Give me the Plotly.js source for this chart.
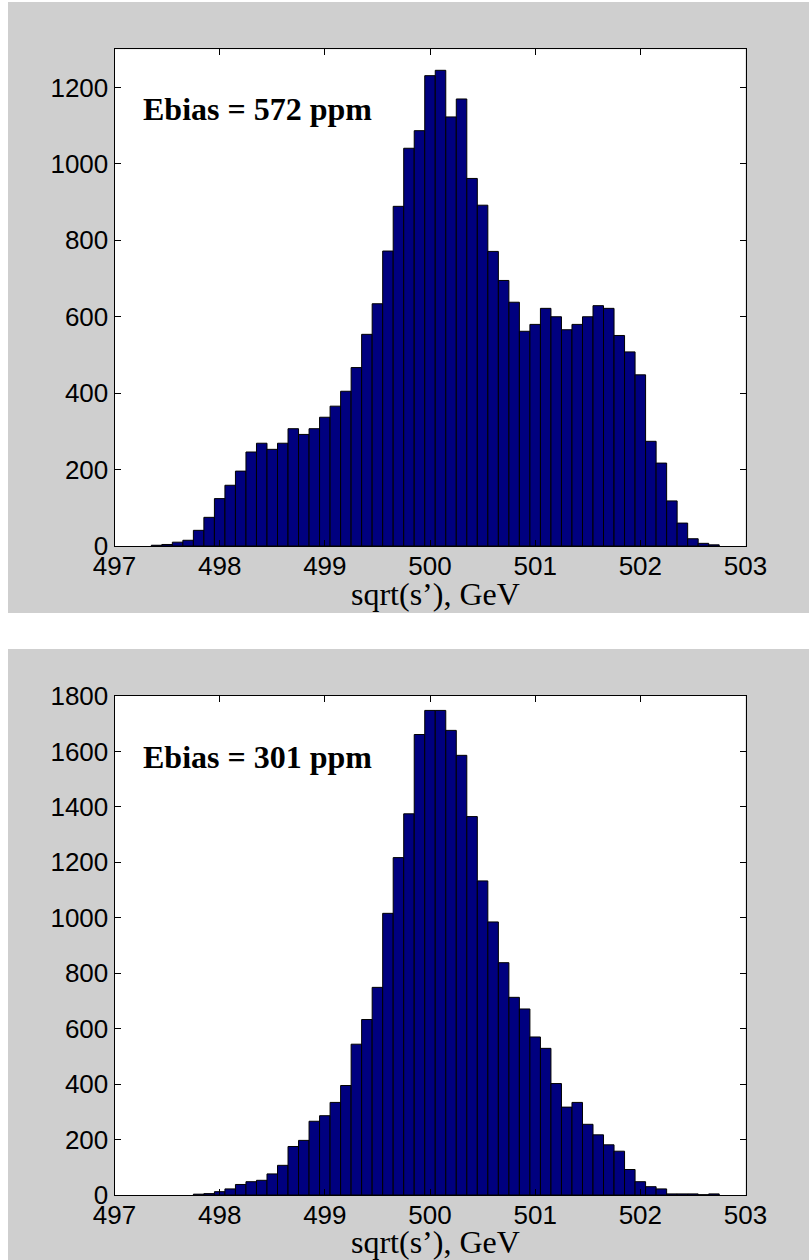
<!DOCTYPE html>
<html>
<head>
<meta charset="utf-8">
<script src="https://cdn.plot.ly/plotly-3.0.1.min.js"></script>
<style>
  html, body { margin: 0; padding: 0; background: #ffffff; }
  #chart { width: 809px; height: 1260px; }
</style>
</head>
<body>
<div id="chart"></div>
<script>
// ---- Data ----
// Top histogram: Ebias = 572 ppm, bin centres (GeV) and counts
var binsTop = [497.4, 497.5, 497.6, 497.7, 497.8, 497.9,
  498.0, 498.1, 498.2, 498.3, 498.4, 498.5, 498.6, 498.7, 498.8, 498.9,
  499.0, 499.1, 499.2, 499.3, 499.4, 499.5, 499.6, 499.7, 499.8, 499.9,
  500.0, 500.1, 500.2, 500.3, 500.4, 500.5, 500.6, 500.7, 500.8, 500.9,
  501.0, 501.1, 501.2, 501.3, 501.4, 501.5, 501.6, 501.7, 501.8, 501.9,
  502.0, 502.1, 502.2, 502.3, 502.4, 502.5, 502.6, 502.7];
var countsTop = [2, 4, 10, 15, 41, 75,
  124, 159, 196, 246, 269, 253, 269, 307, 292, 307,
  337, 366, 405, 467, 554, 634, 772, 889, 1041, 1087,
  1231, 1245, 1123, 1170, 962, 892, 771, 695, 638, 562,
  580, 622, 600, 566, 580, 600, 629, 622, 551, 508,
  448, 274, 217, 118, 60, 19, 7, 3];

// Bottom histogram: Ebias = 301 ppm
var binsBottom = [497.8, 497.9,
  498.0, 498.1, 498.2, 498.3, 498.4, 498.5, 498.6, 498.7, 498.8, 498.9,
  499.0, 499.1, 499.2, 499.3, 499.4, 499.5, 499.6, 499.7, 499.8, 499.9,
  500.0, 500.1, 500.2, 500.3, 500.4, 500.5, 500.6, 500.7, 500.8, 500.9,
  501.0, 501.1, 501.2, 501.3, 501.4, 501.5, 501.6, 501.7, 501.8, 501.9,
  502.0, 502.1, 502.2, 502.3, 502.4, 502.5, 502.6, 502.7];
var countsBottom = [3, 5,
  12, 22, 38, 48, 53, 76, 107, 175, 197, 266,
  286, 334, 395, 544, 633, 749, 1016, 1217, 1375, 1661,
  1748, 1748, 1676, 1586, 1365, 1133, 985, 838, 713, 671,
  570, 529, 402, 317, 334, 255, 217, 181, 158, 92,
  48, 30, 22, 4, 4, 4, 1, 4];

var xTickVals = [497, 498, 499, 500, 501, 502, 503];
var xTickText = ["497", "498", "499", "500", "501", "502", "503"];
var yTickValsTop = [0, 200, 400, 600, 800, 1000, 1200];
var yTickValsBottom = [0, 200, 400, 600, 800, 1000, 1200, 1400, 1600, 1800];
var labelTop = "Ebias = 572 ppm";
var labelBottom = "Ebias = 301 ppm";
var xTitle = "sqrt(s\u2019), GeV";

// ---- Styling ----
var W = 809, H = 1260;
var barColor = "#00007F";
var panelGray = "#CFCFCF";
function px(x) { return x / W; }
function py(y) { return 1 - y / H; }

var tickFont = { family: "Liberation Sans, Arial, sans-serif", size: 26, color: "#000" };

var traces = [
  {
    type: "bar", x: binsTop, y: countsTop, xaxis: "x", yaxis: "y",
    width: 0.1,
    marker: { color: barColor, line: { color: "#000", width: 1 } },
    hoverinfo: "x+y", showlegend: false
  },
  {
    type: "bar", x: binsBottom, y: countsBottom, xaxis: "x2", yaxis: "y2",
    width: 0.1,
    marker: { color: barColor, line: { color: "#000", width: 1 } },
    hoverinfo: "x+y", showlegend: false
  }
];

function xAxis(anchor) {
  return {
    domain: [px(114.5), px(745.5)],
    anchor: anchor,
    range: [497, 503],
    tickmode: "array", tickvals: xTickVals, ticktext: xTickText,
    ticks: "inside", ticklen: 6, tickwidth: 1, tickcolor: "#000",
    showline: true, linecolor: "#000", linewidth: 1, mirror: "ticks",
    showgrid: false, zeroline: false, ticklabelstandoff: -3,
    tickfont: tickFont, fixedrange: true
  };
}
function yAxis(anchor, domain, range, vals) {
  return {
    domain: domain,
    anchor: anchor,
    range: range,
    tickmode: "array", tickvals: vals, ticktext: vals.map(String),
    ticks: "inside", ticklen: 6, tickwidth: 1, tickcolor: "#000",
    showline: true, linecolor: "#000", linewidth: 1, mirror: "ticks",
    showgrid: false, zeroline: false,
    tickfont: tickFont, fixedrange: true
  };
}

var layout = {
  width: W, height: H,
  margin: { l: 0, r: 0, t: 0, b: 0, pad: 0 },
  paper_bgcolor: "#ffffff",
  plot_bgcolor: "#ffffff",
  bargap: 0,
  showlegend: false,
  xaxis: xAxis("y"),
  yaxis: yAxis("x", [py(546), py(49.3)], [0, 1300], yTickValsTop),
  xaxis2: xAxis("y2"),
  yaxis2: yAxis("x2", [py(1195), py(696)], [0, 1800], yTickValsBottom),
  shapes: [
    { type: "rect", xref: "paper", yref: "paper", x0: px(8), x1: 1, y0: py(613), y1: py(2),
      fillcolor: panelGray, line: { width: 0 }, layer: "below" },
    { type: "rect", xref: "paper", yref: "paper", x0: px(8), x1: 1, y0: 0, y1: py(649),
      fillcolor: panelGray, line: { width: 0 }, layer: "below" },
    { type: "rect", xref: "x domain", yref: "y domain", x0: 0, x1: 1, y0: 0, y1: 1,
      fillcolor: "#ffffff", line: { width: 0 }, layer: "below" },
    { type: "rect", xref: "x2 domain", yref: "y2 domain", x0: 0, x1: 1, y0: 0, y1: 1,
      fillcolor: "#ffffff", line: { width: 0 }, layer: "below" }
  ],
  annotations: [
    { xref: "paper", yref: "paper", x: px(141), y: py(89), xanchor: "left", yanchor: "top",
      text: "<b>" + labelTop + "</b>", showarrow: false,
      font: { family: "Liberation Serif, Times New Roman, serif", size: 32, color: "#000" } },
    { xref: "paper", yref: "paper", x: px(141), y: py(737), xanchor: "left", yanchor: "top",
      text: "<b>" + labelBottom + "</b>", showarrow: false,
      font: { family: "Liberation Serif, Times New Roman, serif", size: 32, color: "#000" } },
    { xref: "paper", yref: "paper", x: px(436), y: py(574), xanchor: "center", yanchor: "top",
      text: xTitle, showarrow: false,
      font: { family: "Liberation Serif, Times New Roman, serif", size: 32, color: "#000" } },
    { xref: "paper", yref: "paper", x: px(436), y: py(1222), xanchor: "center", yanchor: "top",
      text: xTitle, showarrow: false,
      font: { family: "Liberation Serif, Times New Roman, serif", size: 32, color: "#000" } }
  ]
};

Plotly.newPlot("chart", traces, layout, { displayModeBar: false, staticPlot: true });
</script>
</body>
</html>
